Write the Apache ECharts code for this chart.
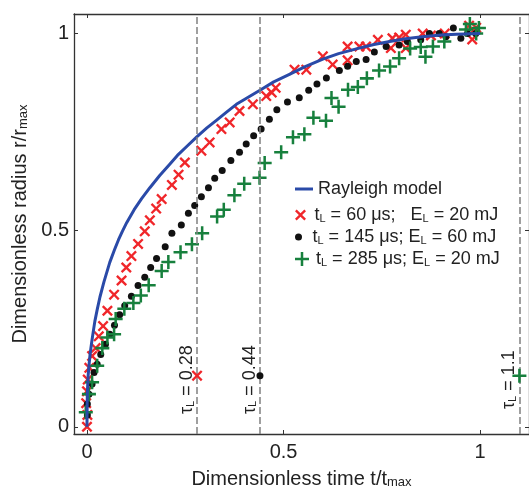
<!DOCTYPE html>
<html>
<head>
<meta charset="utf-8">
<script src="https://cdn.jsdelivr.net/npm/echarts@6/dist/echarts.min.js"></script>
<style>
html, body { margin: 0; padding: 0; background: #fff; }
#main { width: 529px; height: 494px; }
</style>
</head>
<body>
<div id="main"></div>
<script>
// values: [t/tmax, r/rmax]
var rayleighModel = [
    [0, 0], [0.0005, 0.06], [0.001, 0.085], [0.002, 0.11], [0.003, 0.13], [0.005, 0.155],
    [0.008, 0.185], [0.012, 0.215], [0.016, 0.242], [0.02, 0.268], [0.026, 0.298], [0.033, 0.33],
    [0.043, 0.368], [0.058, 0.418], [0.07, 0.45], [0.08, 0.475], [0.09, 0.497],
    [0.101, 0.519], [0.12, 0.552], [0.139, 0.58], [0.16, 0.608], [0.185, 0.639], [0.21, 0.667],
    [0.23, 0.69], [0.255, 0.714], [0.28, 0.738], [0.305, 0.76], [0.33, 0.78], [0.355, 0.8],
    [0.38, 0.82], [0.41, 0.838], [0.44, 0.856], [0.475, 0.877], [0.515, 0.896], [0.555, 0.916],
    [0.6, 0.935], [0.64, 0.949], [0.685, 0.961], [0.73, 0.972], [0.77, 0.98], [0.81, 0.987],
    [0.853, 0.992], [0.9, 0.996], [0.94, 0.998], [1, 1]
];
var tL60 = [
    [0, 0.0], [0.001, 0.03], [-0.002, 0.06], [0, 0.09], [0.002, 0.12], [0.006, 0.15],
    [0.013, 0.18], [0.022, 0.2], [0.03, 0.23], [0.041, 0.256], [0.052, 0.295], [0.069, 0.336],
    [0.088, 0.372], [0.1, 0.405], [0.113, 0.434], [0.13, 0.465], [0.147, 0.497], [0.16, 0.525],
    [0.176, 0.555], [0.19, 0.579], [0.216, 0.615], [0.233, 0.641], [0.249, 0.672],
    [0.291, 0.702], [0.312, 0.723], [0.342, 0.757], [0.363, 0.774], [0.388, 0.803],
    [0.422, 0.82], [0.456, 0.841], [0.47, 0.85], [0.48, 0.862], [0.528, 0.908], [0.558, 0.908],
    [0.6, 0.942], [0.625, 0.921], [0.663, 0.967], [0.663, 0.932], [0.693, 0.967], [0.71, 0.967],
    [0.74, 0.984], [0.773, 0.963], [0.777, 0.988], [0.794, 0.99], [0.811, 0.997], [0.811, 0.963],
    [0.854, 1.0], [0.875, 0.995], [0.91, 1.0], [0.972, 1.02], [0.98, 0.985], [0.99, 1.015]
];
var tL145 = [
    [0.001, 0.03], [0.001, 0.058], [0.005, 0.083], [0.013, 0.109], [0.018, 0.138], [0.026, 0.159],
    [0.035, 0.184], [0.047, 0.21], [0.058, 0.235], [0.07, 0.258], [0.083, 0.285], [0.096, 0.308],
    [0.113, 0.332], [0.13, 0.359], [0.147, 0.38], [0.162, 0.405], [0.177, 0.428], [0.199, 0.458],
    [0.216, 0.492], [0.24, 0.513], [0.258, 0.543], [0.274, 0.563], [0.291, 0.585], [0.309, 0.608],
    [0.325, 0.632], [0.344, 0.652], [0.366, 0.677], [0.388, 0.698], [0.405, 0.719], [0.424, 0.74],
    [0.443, 0.757], [0.464, 0.782], [0.483, 0.806], [0.51, 0.826], [0.54, 0.837], [0.564, 0.856],
    [0.585, 0.872], [0.609, 0.887], [0.642, 0.906], [0.663, 0.917], [0.685, 0.929], [0.71, 0.934],
    [0.731, 0.953], [0.761, 0.967], [0.794, 0.971], [0.815, 0.98], [0.849, 0.984], [0.871, 1.0],
    [0.896, 1.0], [0.913, 0.992], [0.932, 1.014], [0.951, 0.988], [0.968, 1.0], [0.989, 1.0]
];
var tL285 = [
    [-0.003, 0.037], [0.005, 0.083], [0.013, 0.113], [0.026, 0.155], [0.039, 0.2], [0.052, 0.227],
    [0.069, 0.235], [0.073, 0.274], [0.095, 0.3], [0.118, 0.315], [0.137, 0.334], [0.157, 0.36],
    [0.19, 0.396], [0.207, 0.419], [0.238, 0.444], [0.267, 0.464], [0.293, 0.492], [0.331, 0.535],
    [0.348, 0.552], [0.375, 0.589], [0.4, 0.618], [0.439, 0.633], [0.452, 0.671], [0.494, 0.698],
    [0.524, 0.736], [0.553, 0.744], [0.576, 0.786], [0.608, 0.778], [0.622, 0.836], [0.64, 0.814],
    [0.664, 0.857], [0.689, 0.864], [0.712, 0.886], [0.743, 0.906], [0.771, 0.916], [0.794, 0.937],
    [0.822, 0.962], [0.849, 0.966], [0.861, 0.941], [0.88, 0.967], [0.909, 0.98], [0.964, 1.01],
    [0.974, 1.024], [0.997, 1.014], [0.99, 1.0]
];
var tauValues = [0.28, 0.44, 1.1];
var tauLabels = ['0.28', '0.44', '1.1'];
var tauMarkY = 0.13;
var tickValues = [0, 0.5, 1];
var seriesNames = ['Rayleigh model', 'tL = 60 μs; EL = 20 mJ', 'tL = 145 μs; EL = 60 mJ', 'tL = 285 μs; EL = 20 mJ'];
var legendTexts = [
    '{n|Rayleigh model}',
    '{n|t}{s|L}{n| = 60 μs;   E}{s|L}{n| = 20 mJ}',
    '{n|t}{s|L}{n| = 145 μs; E}{s|L}{n| = 60 mJ}',
    '{n|t}{s|L}{n| = 285 μs; E}{s|L}{n| = 20 mJ}'
];

var font = "'Liberation Sans', Arial, sans-serif";
var textColor = '#222';
var colors = ['#2a4aa8', '#f0262a', '#111111', '#17803d'];
var xPath = 'path://M3,0L10,7L17,0L20,3L13,10L20,17L17,20L10,13L3,20L0,17L7,10L0,3Z';
var plusPath = 'path://M0,8.2H20V11.8H0Z M8.2,0H11.8V20H8.2Z';

var rich = {
    n: { fontSize: 18, lineHeight: 18, fontFamily: font, color: textColor },
    s: { fontSize: 11, lineHeight: 6, verticalAlign: 'bottom', fontFamily: font, color: textColor }
};
var titleRich = {
    n: { fontSize: 20, lineHeight: 20, fontFamily: font, color: textColor },
    s: { fontSize: 13, lineHeight: 6, verticalAlign: 'bottom', fontFamily: font, color: textColor }
};
var tauRich = {
    n: { fontSize: 18, lineHeight: 18, fontFamily: font, color: textColor },
    s: { fontSize: 11, lineHeight: 6, verticalAlign: 'bottom', fontFamily: font, color: textColor }
};

var chartDom = document.getElementById('main');
var myChart = echarts.init(chartDom);
var option;

function makeLegend(i, top, h, icon) {
    var item = { name: seriesNames[i] };
    if (icon) item.icon = icon;
    return {
        left: 295,
        top: top,
        padding: 0,
        orient: 'vertical',
        itemWidth: 18,
        itemHeight: h,
        itemGap: 5,
        selectedMode: false,
        data: [item],
        formatter: function () { return legendTexts[i]; },
        textStyle: { rich: rich }
    };
}

function scatterSeries(i, data, symbol, size) {
    return {
        name: seriesNames[i],
        type: 'scatter',
        data: data,
        symbol: symbol,
        symbolSize: size,
        itemStyle: { color: colors[i], opacity: 1 },
        z: 2,
        markLine: {
            silent: true,
            symbol: 'none',
            lineStyle: { color: '#808080', type: [7, 3], width: 1.5 },
            label: { show: false },
            data: [{ xAxis: tauValues[i - 1] }]
        },
        markPoint: {
            silent: true,
            symbol: symbol,
            symbolSize: size,
            itemStyle: { color: colors[i] },
            data: [{ coord: [tauValues[i - 1], tauMarkY] }],
            label: {
                show: true,
                position: 'inside',
                rotate: 90,
                align: 'center',
                verticalAlign: 'bottom',
                offset: [-4, -1],
                formatter: '{n|τ}{s|L}{n| = ' + tauLabels[i - 1] + '}',
                rich: tauRich
            }
        }
    };
}

option = {
    animation: false,
    backgroundColor: '#fff',
    grid: { left: 74, top: 14, width: 456, height: 423 },
    legend: [
        makeLegend(0, 180, 3, 'rect'),
        makeLegend(1, 206, 11),
        makeLegend(2, 228, 7),
        makeLegend(3, 250, 14)
    ],
    xAxis: [
        {
            type: 'value', min: -0.033, max: 1.1244, position: 'bottom',
            axisLine: { onZero: false, lineStyle: { color: '#333', width: 1.3 } },
            axisTick: { inside: true, length: 4, customValues: tickValues, lineStyle: { color: '#333' } },
            axisLabel: { customValues: tickValues, fontSize: 20, margin: 8, color: textColor, fontFamily: font },
            splitLine: { show: false },
            name: '{n|Dimensionless time t/t}{s|max}',
            nameLocation: 'middle',
            nameGap: 35,
            nameTextStyle: { rich: titleRich }
        },
        {
            type: 'value', min: -0.033, max: 1.1244, position: 'top',
            axisLine: { onZero: false, lineStyle: { color: '#333', width: 1.3 } },
            axisTick: { inside: true, length: 4, customValues: tickValues, lineStyle: { color: '#333' } },
            axisLabel: { show: false },
            splitLine: { show: false }
        }
    ],
    yAxis: [
        {
            type: 'value', min: -0.0184, max: 1.0497, position: 'left',
            axisLine: { onZero: false, lineStyle: { color: '#333', width: 1.3 } },
            axisTick: { inside: true, length: 4, customValues: tickValues, lineStyle: { color: '#333' } },
            axisLabel: { customValues: tickValues, fontSize: 20, margin: 5, color: textColor, fontFamily: font },
            splitLine: { show: false },
            name: '{n|Dimensionless radius r/r}{s|max}',
            nameLocation: 'middle',
            nameGap: 38,
            nameTextStyle: { rich: titleRich }
        },
        {
            type: 'value', min: -0.0184, max: 1.0497, position: 'right',
            axisLine: { onZero: false, lineStyle: { color: '#333', width: 1.3 } },
            axisTick: { inside: true, length: 4, customValues: tickValues, lineStyle: { color: '#333' } },
            axisLabel: { show: false },
            splitLine: { show: false }
        }
    ],
    series: [
        scatterSeries(1, tL60, xPath, 11),
        scatterSeries(2, tL145, 'circle', 7),
        scatterSeries(3, tL285, plusPath, 14),
        {
            name: seriesNames[0],
            type: 'line',
            data: rayleighModel,
            smooth: false,
            symbol: 'none',
            z: 3,
            lineStyle: { color: colors[0], width: 3, join: 'round' },
            itemStyle: { color: colors[0] }
        }
    ]
};

option && myChart.setOption(option);
</script>
</body>
</html>
